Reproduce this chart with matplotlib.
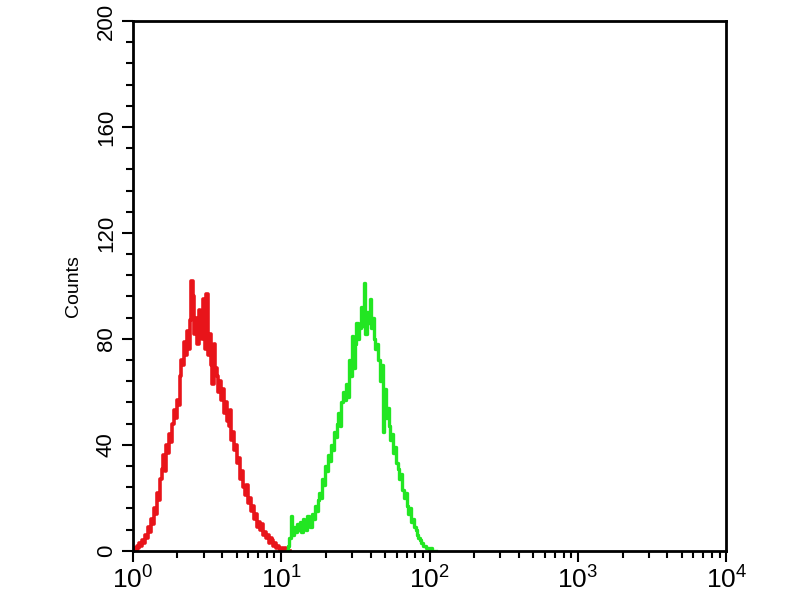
import numpy as np
import matplotlib
matplotlib.use("Agg")
import matplotlib.pyplot as plt
from matplotlib.ticker import MultipleLocator, LogLocator, LogFormatterMathtext, NullFormatter

plt.rcParams['font.family'] = ['Liberation Sans', 'DejaVu Sans']

# histogram counts, one value per channel (0.01 decade per channel)
red_start, red_stop = 0.00, 1.06
red_counts = [0, 1, 0, 2, 1, 3, 2, 4, 3, 6,
              5, 9, 7, 12, 10, 16, 14, 22, 19, 27,
              31, 36, 30, 40, 37, 44, 41, 48, 53, 50,
              57, 55, 66, 72, 70, 79, 74, 83, 76, 87,
              102, 96, 82, 88, 78, 91, 84, 80, 95, 76,
              97, 74, 82, 70, 63, 78, 69, 66, 60, 64,
              57, 61, 52, 56, 49, 47, 53, 42, 45, 38,
              40, 33, 35, 27, 30, 24, 21, 25, 18, 20,
              15, 17, 12, 14, 9, 11, 8, 10, 6, 7,
              5, 6, 3, 5, 4, 2, 3, 1, 2, 1,
              0, 1, 0, 1, 0, 0, 0]

green_start, green_stop = 1.04, 2.04
green_counts = [0, 2, 5, 13, 6, 9, 7, 10, 8, 11,
                7, 12, 9, 8, 13, 10, 9, 14, 12, 17,
                15, 19, 22, 20, 27, 25, 32, 30, 36, 34,
                40, 38, 45, 43, 48, 52, 47, 56, 60, 57,
                63, 58, 72, 66, 81, 69, 78, 86, 80, 84,
                92, 85, 101, 82, 90, 86, 95, 84, 88, 80,
                76, 78, 72, 64, 70, 45, 61, 50, 54, 47,
                42, 44, 37, 39, 33, 31, 27, 29, 23, 20,
                22, 17, 14, 16, 11, 12, 9, 8, 6, 5,
                4, 3, 2, 2, 1, 1, 0, 1, 0, 0,
                0]

y_ticks = [0, 40, 80, 120, 160, 200]

red_x = np.logspace(red_start, red_stop, len(red_counts))
green_x = np.logspace(green_start, green_stop, len(green_counts))

fig = plt.figure(figsize=(8, 6), dpi=100)
ax = fig.add_axes([0.166, 0.082, 0.742, 0.883])

ax.plot(red_x, red_counts, color='#e8141a', linewidth=2.6, drawstyle='steps-mid')
ax.plot(green_x, green_counts, color='#22e622', linewidth=2.4, drawstyle='steps-mid')

ax.set_xscale('log')
ax.set_xlim(1, 1e4)
ax.set_ylim(0, 200)

ax.set_yticks(y_ticks)
ax.yaxis.set_minor_locator(MultipleLocator(8))
ax.xaxis.set_major_locator(LogLocator(base=10))
ax.xaxis.set_minor_locator(LogLocator(base=10, subs=np.arange(2, 10)))
ax.xaxis.set_major_formatter(LogFormatterMathtext())
ax.xaxis.set_minor_formatter(NullFormatter())

ax.tick_params(axis='both', which='major', direction='out', length=8, width=1.5, labelsize=16)
ax.tick_params(axis='x', which='major', labelsize=19, pad=3)
ax.tick_params(axis='both', which='minor', direction='out', length=5, width=1.5)
for lbl in ax.get_yticklabels():
    lbl.set_rotation(90)
    lbl.set_va('center')

for s in ax.spines.values():
    s.set_linewidth(2)

ax.set_ylabel('Counts', fontsize=14, labelpad=10)

fig.savefig('out.png', dpi=100)
